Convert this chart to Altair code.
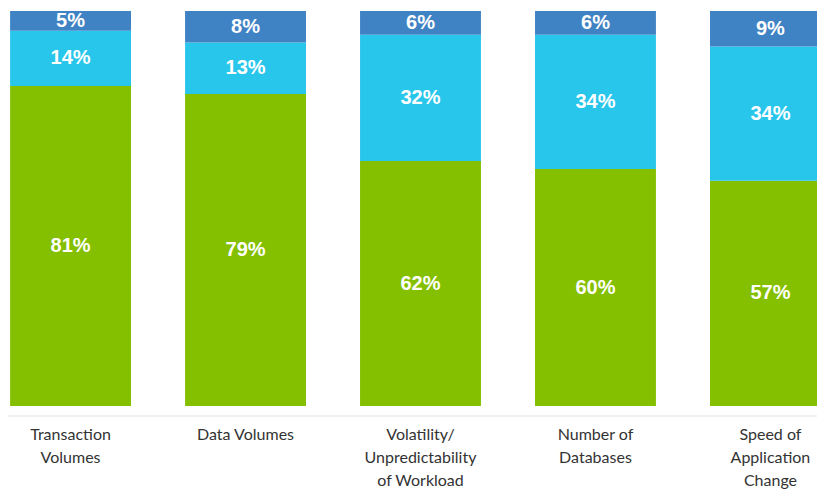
import altair as alt
import pandas as pd

categories = ["Transaction\nVolumes", "Data Volumes", "Volatility/\nUnpredictability\nof Workload",
              "Number of\nDatabases", "Speed of\nApplication\nChange"]
green_vals = [81, 79, 62, 60, 57]
cyan_vals = [14, 13, 32, 34, 34]
blue_vals = [5, 8, 6, 6, 9]
series = ["green", "cyan", "blue"]
colors = ["#84bf00", "#29c6ec", "#3f83c4"]

rows = []
for i, c in enumerate(categories):
    for o, (s, vals) in enumerate(zip(series, [green_vals, cyan_vals, blue_vals])):
        rows.append({"cat": c, "series": s, "order": o, "value": vals[i]})
df = pd.DataFrame(rows)

base = alt.Chart(df).transform_stack(
    stack="value", groupby=["cat"], as_=["v0", "v1"], sort=[{"field": "order", "order": "ascending"}]
).transform_calculate(mid="(datum.v0 + datum.v1) / 2", lab="datum.value + '%'")

xscale = alt.Scale(paddingInner=0.309, paddingOuter=0.012, range=[0, 825])
x = alt.X("cat:N", sort=categories, title=None, scale=xscale,
          axis=alt.Axis(labelExpr="split(datum.label, '\\n')", labelAngle=0, tickSize=0,
                        labelPadding=11, labelFontSize=16, labelFont="Lato", labelColor="#333333",
                        labelLineHeight=23, domainColor="#ececec", domainWidth=1.5,
                        labelBaseline="top"))
yscale = alt.Scale(domain=[-2.4, 100], nice=False, zero=False)

bars = base.mark_bar().encode(
    x=x,
    y=alt.Y("v0:Q", scale=yscale, axis=None),
    y2="v1:Q",
    color=alt.Color("series:N", scale=alt.Scale(domain=series, range=colors), legend=None),
)
texts = base.mark_text(color="white", font="Liberation Sans", fontSize=20, fontWeight="bold").encode(
    x=alt.X("cat:N", sort=categories),
    y=alt.Y("mid:Q", scale=yscale),
    text="lab:N",
)

chart = alt.layer(bars, texts).properties(
    width=809, height=404.5,
    autosize=alt.AutoSizeParams(type="none"),
    padding={"top": 3, "left": 0, "right": 0, "bottom": 73.5},
).configure(background="white").configure_view(stroke=None)

chart.save("out.html", embed_options={"renderer": "svg", "actions": False})
